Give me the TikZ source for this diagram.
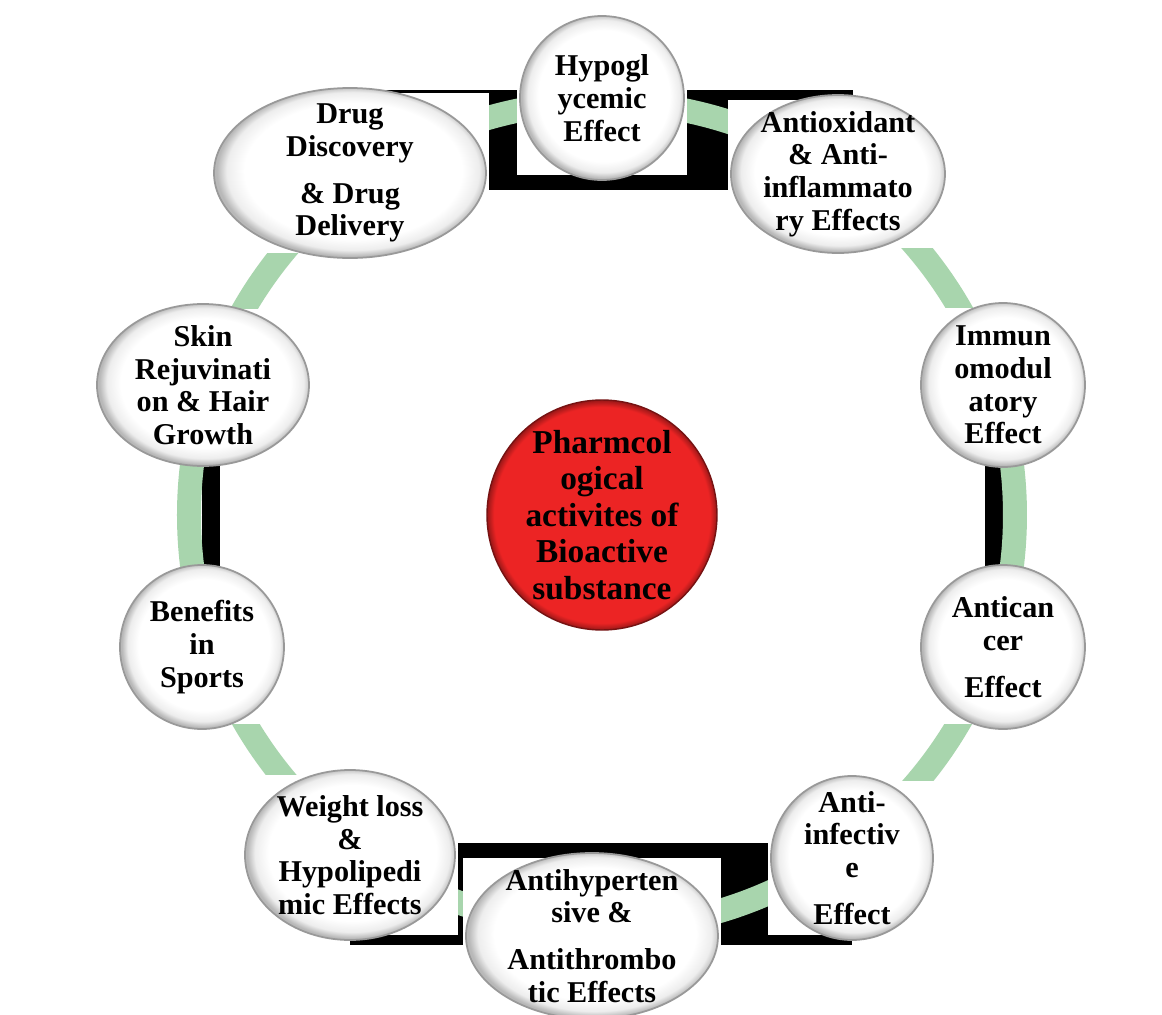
\documentclass[tikz,border=0pt]{standalone}
\usepackage{fontspec}
\setmainfont{Liberation Serif}
\usetikzlibrary{backgrounds, fit, shapes}

\definecolor{ringgreen}{RGB}{168,213,173}
\definecolor{hubred}{RGB}{236,36,36}
% the path edge sits at 25bp of a shading
\pgfdeclareradialshading{bead}{\pgfpoint{1bp}{1bp}}{color(0bp)=(white); color(20bp)=(white); color(23.2bp)=(black!7); color(25bp)=(black!28); color(50bp)=(black!28)}
\pgfdeclareradialshading{redball}{\pgfpoint{0bp}{0bp}}{color(0bp)=(hubred); color(23.5bp)=(hubred); color(25bp)=(hubred!65!black); color(50bp)=(hubred!65!black)}

\begin{document}
\begin{tikzpicture}[font=\bfseries]
\tikzset{every node/.style={inner sep=-3mm, outer sep=0mm}}

\tikzstyle{activity}=[ellipse, draw=black!40, line width=0.5pt, shading=bead, align=center, font=\fontsize{8.6}{9.3}\selectfont\bfseries]
\tikzstyle{hub}=[circle, draw=hubred!50!black, shading=redball, minimum size=2.3cm, align=center, font=\fontsize{9.5}{10.4}\selectfont\bfseries]
\tikzstyle{plate}=[fill=white, inner xsep=0.3mm, inner ysep=-0.5mm]
\tikzstyle{band}=[draw=ringgreen, line width=0.24cm]
\tikzstyle{backing}=[fill=black]

\useasboundingbox (-6.02,-5.00) rectangle (5.60,5.15);

\node[hub] (hub) at (0,0) {Pharmcol\\ogical\\activites of\\Bioactive\\substance};

\node[activity, minimum width=1.64cm, minimum height=1.64cm] (hypo) at (0,4.17) {Hypogl\\ycemic\\Effect};
\node[activity, minimum width=2.14cm, minimum height=1.58cm] (antiox) at (2.36,3.41) {Antioxidant\\\& Anti-\\inflammato\\ry Effects};
\node[activity, minimum width=1.64cm, minimum height=1.64cm] (immuno) at (4.01,1.30) {Immun\\omodul\\atory\\Effect};
\node[activity, minimum width=1.64cm, minimum height=1.64cm] (cancer) at (4.01,-1.32) {Antican\\cer\\[4pt]Effect};
\node[activity, minimum width=1.62cm, minimum height=1.64cm] (infect) at (2.50,-3.43) {Anti-\\infectiv\\e\\[4pt]Effect};
\node[activity, minimum width=2.52cm, minimum height=1.66cm] (hyper) at (-0.10,-4.21) {Antihyperten\\sive \&\\[4pt]Antithrombo\\tic Effects};
\node[activity, minimum width=2.10cm, minimum height=1.70cm] (weight) at (-2.52,-3.40) {Weight loss\\\&\\Hypolipedi\\mic Effects};
\node[activity, minimum width=1.64cm, minimum height=1.64cm] (sports) at (-4.00,-1.32) {Benefits\\in\\Sports};
\node[activity, minimum width=2.12cm, minimum height=1.62cm] (skin) at (-3.99,1.30) {Skin\\Rejuvinati\\on \& Hair\\Growth};
\node[activity, minimum width=2.72cm, minimum height=1.70cm] (drug) at (-2.52,3.42) {Drug\\Discovery\\[4pt]\& Drug\\Delivery};

\begin{scope}[on background layer]
    \fill[white] (-6.02,-5.00) rectangle (5.60,5.15);
    % black frames behind the ring
    \fill[backing] (-2.50,3.25) rectangle (2.51,4.25);
    \fill[backing] (-2.52,-4.30) rectangle (2.50,-3.28);
    \fill[backing] (-4.00,-1.00) rectangle (-3.82,1.00);
    \fill[backing] (3.83,-1.00) rectangle (4.01,1.00);
    \draw[band] (hub.center) circle (4.13cm);
    \node (hypo plate) [plate, fit=(hypo)] {};
    \node (antiox plate) [plate, fit=(antiox)] {};
    \node (immuno plate) [plate, fit=(immuno)] {};
    \node (cancer plate) [plate, fit=(cancer)] {};
    \node (infect plate) [plate, fit=(infect)] {};
    \node (hyper plate) [plate, fit=(hyper)] {};
    \node (weight plate) [plate, fit=(weight)] {};
    \node (sports plate) [plate, fit=(sports)] {};
    \node (skin plate) [plate, fit=(skin)] {};
    \node (drug plate) [plate, fit=(drug)] {};
\end{scope}

\end{tikzpicture}
\end{document}
